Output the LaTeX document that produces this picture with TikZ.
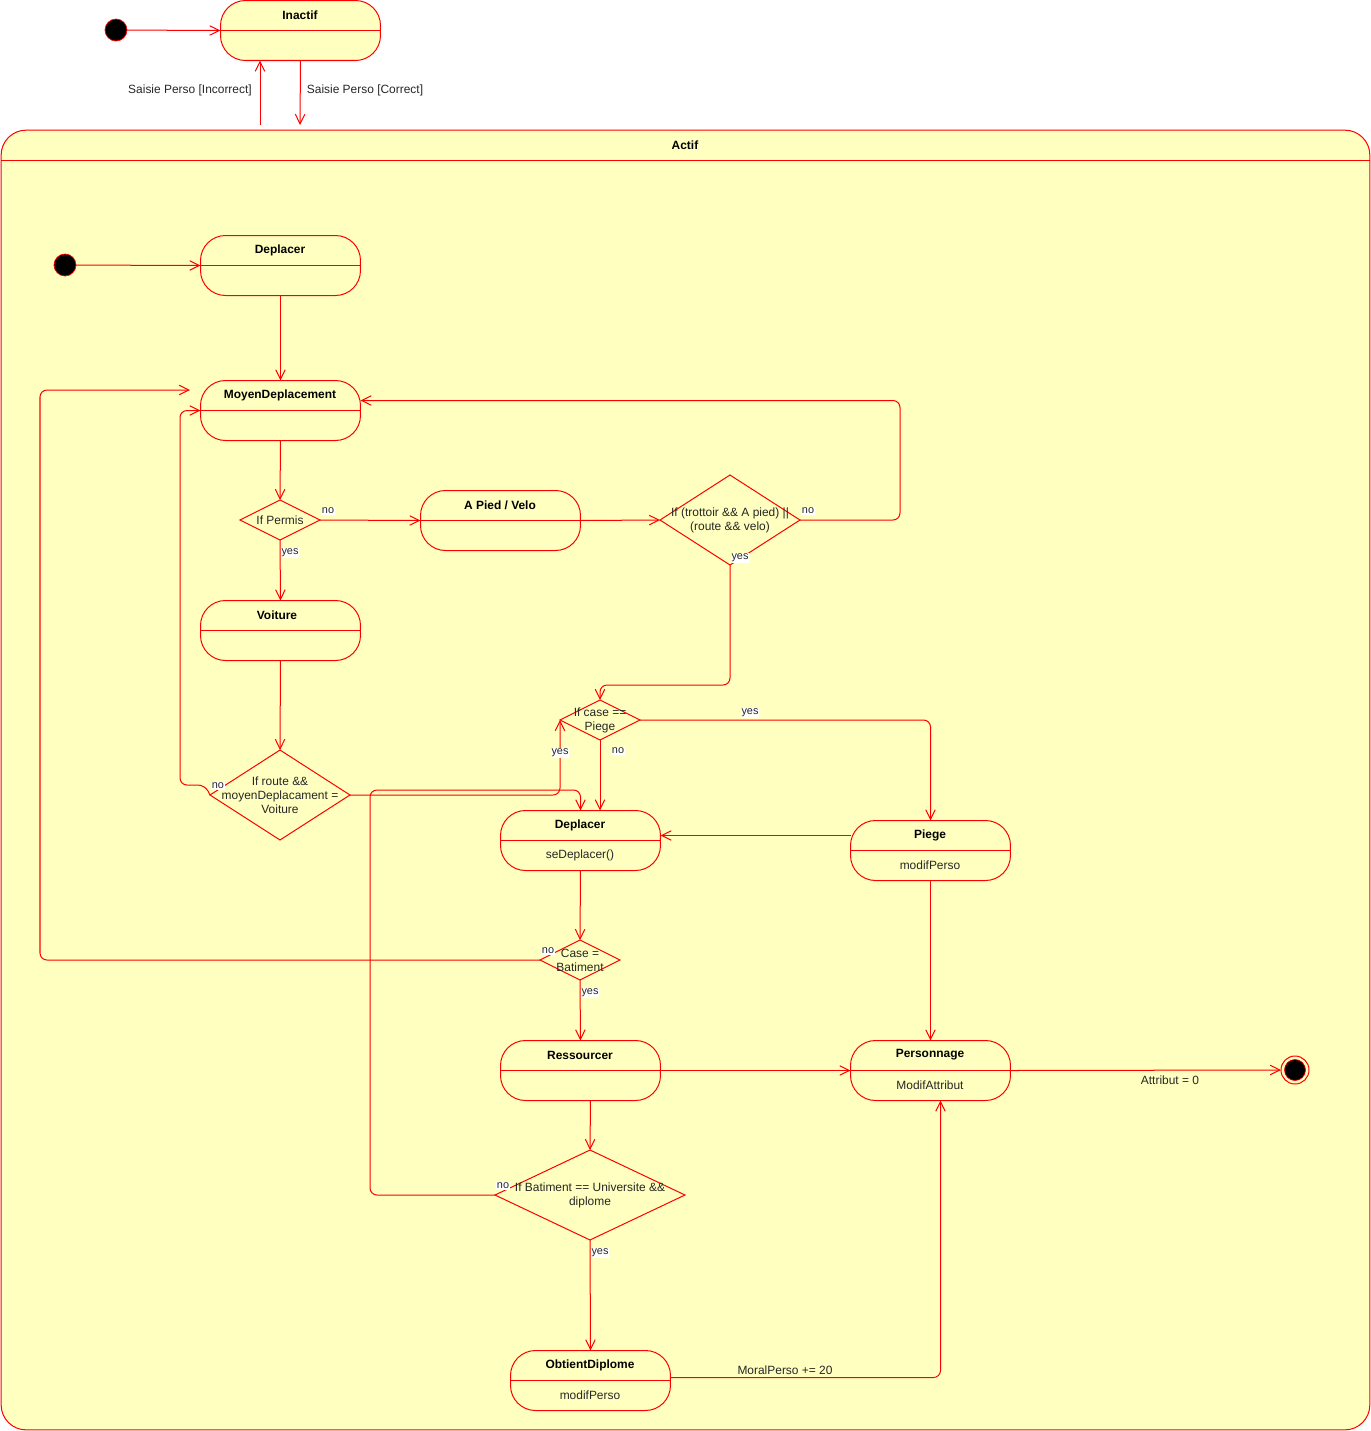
\documentclass[tikz,border=0pt]{standalone}
\usepackage{fontspec}
\setmainfont{Liberation Sans}
\usetikzlibrary{arrows.meta,positioning,shapes.geometric,calc}
\definecolor{stateFill}{HTML}{FFFFC0}

\begin{document}
\begin{tikzpicture}[
  x=0.02cm, y=-0.02cm,
  every node/.style={font=\fontsize{6.8}{7.9}\selectfont, text=black!85, outer sep=0pt},
  flow/.style={draw=red, line width=0.57pt, rounded corners=1.4mm,
    -{Straight Barb[length=5.5pt,width=5.4pt]}},
  stateBox/.style={draw=red, fill=stateFill, line width=0.57pt,
    rounded corners=0.5cm, minimum width=3.2cm, minimum height=1.2cm, inner sep=0pt},
  divider/.style={draw=red, line width=0.57pt},
  stateName/.style={font=\bfseries\fontsize{6.8}{7.9}\selectfont, text=black},
  decision/.style={diamond, draw=red, fill=stateFill, line width=0.57pt, inner sep=0pt},
  condText/.style={align=center},
  guard/.style={fill=white, inner sep=0.5pt, font=\fontsize{6.2}{7}\selectfont},
  startDot/.style={circle, fill=black, draw=red, line width=0.4pt,
    minimum size=0.44cm, inner sep=0pt}
]
\useasboundingbox (0,0) rectangle (1371,1431);

% Outer states
\node[startDot] (topStart) at (116,30) {};
\node[stateBox] (inactif) at (300.5,30.5) {};
\draw[divider] (inactif.west) -- (inactif.east);
\node[stateName] (inactif-t) at (300,15) {Inactif};

\node[stateBox, minimum width=27.38cm, minimum height=26cm] (actif) at (685.5,780) {};
\draw[divider] ($(actif.north west)+(0,30)$) -- ($(actif.north east)+(0,30)$);
\node[stateName] (actif-t) at (685,145) {Actif};

\coordinate (incBase) at (260,125);
\coordinate (corTip) at (300,125);
\draw[flow] (topStart) -- (inactif.west);
\draw[flow] (incBase) -- (incBase |- inactif.south);
\draw[flow] (inactif.south) -- (corTip);
\node (incLabel) at (190,90) {Saisie Perso [Incorrect]};
\node (corLabel) at (365,90) {Saisie Perso [Correct]};

% Inner states
\node[startDot] (innerStart) at (65,265) {};

\node[stateBox] (dep1) at (280.5,265.5) {};
\draw[divider] (dep1.west) -- (dep1.east);
\node[stateName] (dep1-t) at (280,250) {Deplacer};

\node[stateBox] (moyen) at (280.5,410.5) {};
\draw[divider] (moyen.west) -- (moyen.east);
\node[stateName] (moyen-t) at (280,395) {MoyenDeplacement};

\node[stateBox] (apied) at (500.5,520.5) {};
\draw[divider] (apied.west) -- (apied.east);
\node[stateName] (apied-t) at (500,505) {A Pied / Velo};

\node[stateBox] (voiture) at (280.5,630.5) {};
\draw[divider] (voiture.west) -- (voiture.east);
\node[stateName] (voiture-t) at (277,615) {Voiture};

\node[stateBox] (dep2) at (580.5,840.5) {};
\draw[divider] (dep2.west) -- (dep2.east);
\node[stateName] (dep2-t) at (580,825) {Deplacer};
\node (dep2-b) at (580,855) {seDeplacer()};

\node[stateBox] (piege) at (930.5,850.5) {};
\draw[divider] (piege.west) -- (piege.east);
\node[stateName] (piege-t) at (930,835) {Piege};
\node (piege-b) at (930,865) {modifPerso};

\node[stateBox] (ress) at (580.5,1070.5) {};
\draw[divider] (ress.west) -- (ress.east);
\node[stateName] (ress-t) at (580,1055) {Ressourcer};

\node[stateBox] (perso) at (930.5,1070.5) {};
\draw[divider] (perso.west) -- (perso.east);
\node[stateName] (perso-t) at (930,1055) {Personnage};
\node (perso-b) at (930,1085) {ModifAttribut};

\node[stateBox] (obtient) at (590.5,1380.5) {};
\draw[divider] (obtient.west) -- (obtient.east);
\node[stateName] (obtient-t) at (590,1365) {ObtientDiplome};
\node (obtient-b) at (590,1395) {modifPerso};

\node[circle, draw=red, line width=0.57pt, minimum size=0.56cm, inner sep=0pt] (finalRing) at (1295,1070) {};
\node[circle, fill=black, draw=red, line width=0.4pt, minimum size=0.42cm, inner sep=0pt] (finalDot) at (1295,1070) {};

% Decisions
\node[decision, minimum width=1.6cm, minimum height=0.8cm] (permis) at (280,520) {};
\node[condText] (permis-t) at (280,520) {If Permis};
\node[decision, minimum width=2.8cm, minimum height=1.8cm] (trot) at (730,520) {};
\node[condText] (trot-t) at (730,520) {If (trottoir \&\& A pied) ||\\(route \&\& velo)};
\node[decision, minimum width=2.8cm, minimum height=1.8cm] (route) at (280,795) {};
\node[condText] (route-t) at (280,795) {If route \&\&\\moyenDeplacament =\\Voiture};
\node[decision, minimum width=1.6cm, minimum height=0.8cm] (casep) at (600,720) {};
\node[condText] (casep-t) at (600,720) {If case ==\\Piege};
\node[decision, minimum width=1.6cm, minimum height=0.8cm] (bat) at (580,960) {};
\node[condText] (bat-t) at (580,960) {Case =\\Batiment};
\node[decision, minimum width=3.8cm, minimum height=1.8cm] (univ) at (590,1195) {};
\node[condText] (univ-t) at (590,1195) {If Batiment == Universite \&\&\\diplome};

% Transitions
\coordinate (loopEnd) at (190,390);
\draw[flow] (innerStart) -- (dep1.west);
\draw[flow] (dep1.south) -- (moyen.north);
\draw[flow] (moyen.south) -- (permis.north);
\draw[flow] (permis.east) -- (apied.west);
\draw[flow] (permis.south) -- (voiture.north);
\draw[flow] (apied.east) -- (trot.west);
\draw[flow] (trot.east) -- (900,520) |- ($(moyen.east)+(0,-10)$);
\draw[flow] (trot.south) -- (730,685) -| (casep.north);
\draw[flow] (voiture.south) -- (route.north);
\draw[flow] (route.west) -- ++(-5,-10) -- (180,785) |- (moyen.west);
\draw[flow] (route.east) -| (casep.west);
\draw[flow] (casep.east) -| (piege.north);
\draw[flow] (casep.south) -- (casep.south |- dep2.north);
\draw[flow] ($(piege.west)+(0,-15)$) -- ($(dep2.east)+(0,-5)$);
\draw[flow] (piege.south) -- (perso.north);
\draw[flow] (dep2.south) -- (bat.north);
\draw[flow] (bat.west) -- (40,960) |- (loopEnd);
\draw[flow] (bat.south) -- (ress.north);
\draw[flow] (ress.east) -- (perso.west);
\draw[flow] ($(ress.south)+(10,0)$) -- (univ.north);
\draw[flow] (univ.west) -- (370,1195) -- (370,790) -| (dep2.north);
\draw[flow] (univ.south) -- (obtient.north);
\draw[flow] ($(obtient.east)+(0,-3)$) -| ($(perso.south)+(10,0)$);
\draw[flow] (perso.east) -- (finalRing.west);

% Guards
\node[guard] (g1) at (328,511) {no};
\node[guard] (g2) at (290,553) {yes};
\node[guard] (g3) at (808,511) {no};
\node[guard] (g4) at (740,558) {yes};
\node[guard] (g5) at (218,786) {no};
\node[guard] (g6) at (560,753) {yes};
\node[guard] (g7) at (750,713) {yes};
\node[guard] (g8) at (618,751) {no};
\node[guard] (g9) at (548,951) {no};
\node[guard] (g10) at (590,993) {yes};
\node[guard] (g11) at (503,1186) {no};
\node[guard] (g12) at (600,1253) {yes};
\node (moralLabel) at (785,1370) {MoralPerso += 20};
\node (attrLabel) at (1170,1080) {Attribut = 0};
\end{tikzpicture}
\end{document}
